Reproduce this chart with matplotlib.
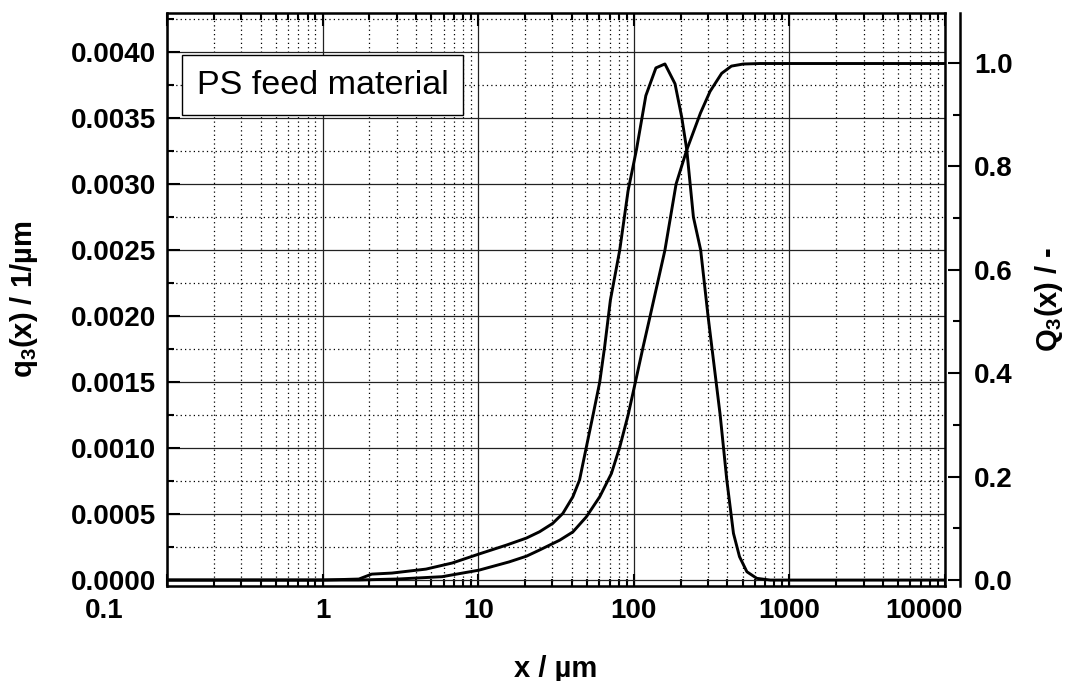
import numpy as np
import matplotlib
matplotlib.use("Agg")
import matplotlib.pyplot as plt
from matplotlib.ticker import FixedLocator, FuncFormatter, MultipleLocator, LogLocator, NullFormatter
from matplotlib.transforms import ScaledTranslation

plt.rcParams['font.family'] = ['Liberation Sans', 'DejaVu Sans']
plt.rcParams['font.weight'] = 'bold'
plt.rcParams['mathtext.default'] = 'regular'

# density distribution q3(x)
x_q3 = [0.1, 1.0, 1.71, 2.07, 2.79, 4.62, 6.8, 10.1, 15.2, 20.4, 24.8, 30.1, 35.0,
        40.6, 44.8, 49.5, 54.7, 60.4, 65.0, 70.7, 81.2, 91.9, 104, 119.5, 138.7,
        158.5, 184, 203, 219, 241.6, 269, 300, 359, 396, 437, 478, 533, 617, 753, 10000]
q3 = [0.0, 0.0, 0.0000076, 0.000045, 0.000053, 0.000083, 0.000129, 0.000197, 0.000265,
      0.000318, 0.000366, 0.000429, 0.000505, 0.000631, 0.000758, 0.001005, 0.00125,
      0.0015, 0.00177, 0.00212, 0.0025, 0.00295, 0.00326, 0.00367, 0.00388, 0.00391,
      0.00376, 0.00351, 0.00326, 0.00275, 0.0025, 0.0020, 0.00125, 0.000758, 0.000354,
      0.000177, 0.000063, 0.000013, 0.0, 0.0]

# cumulative distribution Q3(x)
x_Q3 = [0.1, 1.71, 3.09, 5.86, 10.1, 15.8, 20.4, 24.8, 33.4, 40.6, 49.5, 60.4, 71.8,
        81.2, 91.9, 102.6, 114.8, 127, 158.5, 187, 219, 268, 309, 367, 424, 505, 646, 10000]
Q3 = [0.0, 0.0, 0.002, 0.0064, 0.019, 0.035, 0.046, 0.058, 0.077, 0.093, 0.122, 0.161,
      0.206, 0.257, 0.319, 0.384, 0.451, 0.509, 0.638, 0.766, 0.832, 0.903, 0.945,
      0.980, 0.994, 0.998, 0.999, 0.999]

x_ticks = [0.1, 1, 10, 100, 1000, 10000]

fig = plt.figure(figsize=(10.73, 6.81), dpi=100)
ax = fig.add_axes([167 / 1073, 1 - 586 / 681, 778 / 1073, 573 / 681])

ax.plot(x_q3, q3, color='black', lw=2.1, zorder=5)
ax.set_xscale('log')
ax.set_xlim(0.1, 10000)
ax.set_ylim(-0.000045, 0.004296)

ax.xaxis.set_major_locator(FixedLocator(x_ticks))
ax.xaxis.set_major_formatter(FuncFormatter(lambda v, p: '{:g}'.format(v)))
ax.xaxis.set_minor_locator(LogLocator(base=10, subs=np.arange(2, 10), numticks=20))
ax.xaxis.set_minor_formatter(NullFormatter())
ax.yaxis.set_major_locator(MultipleLocator(0.0005))
ax.yaxis.set_minor_locator(MultipleLocator(0.00025))
ax.yaxis.set_major_formatter(FuncFormatter(lambda v, p: '%.4f' % v))

ax.grid(which='major', color='#222222', lw=0.9, ls='-')
ax.grid(which='minor', color='black', lw=0.9, ls=(0, (1, 2.5)))
ax.set_axisbelow(True)

ax.tick_params(which='both', direction='in', top=True, right=False, width=1.5, labelsize=20)
ax.tick_params(which='major', length=9)
ax.tick_params(which='minor', length=5)
ax.tick_params(axis='y', pad=8)
ax.tick_params(axis='x', pad=9)
for s in ax.spines.values():
    s.set_linewidth(1.8)

ax.set_xlabel('x / µm', fontsize=21, fontweight='bold', labelpad=22)
ax.set_ylabel('q$_3$(x) / 1/µm', fontsize=21, fontweight='bold', labelpad=22)

ax.text(0.038, 0.874, 'PS feed material', transform=ax.transAxes, fontsize=24.5,
        fontweight='normal', va='center', ha='left', zorder=6,
        bbox=dict(boxstyle='square,pad=0.42', facecolor='white', edgecolor='black', lw=1.0))

ax2 = ax.twinx()
ax2.plot(x_Q3, Q3, color='black', lw=2.1, zorder=5)
ax2.set_ylim(-0.0116, 1.0967)
ax2.yaxis.set_major_locator(MultipleLocator(0.2))
ax2.yaxis.set_minor_locator(MultipleLocator(0.1))
ax2.yaxis.set_major_formatter(FuncFormatter(lambda v, p: '%.1f' % v))
ax2.spines['right'].set_position(('outward', 10.8))
ax2.spines['right'].set_linewidth(1.8)
ax2.tick_params(which='both', direction='in', width=1.5, labelsize=20, pad=10)
ax2.tick_params(which='major', length=9)
ax2.tick_params(which='minor', length=5)
ax2.set_ylabel('Q$_3$(x) / -', fontsize=21, fontweight='bold', labelpad=15)

# end labels of the x axis sit shifted like in the original
ticks = ax.xaxis.get_major_ticks()
first = ticks[0].label1
first.set_horizontalalignment('right')
first.set_transform(first.get_transform() + ScaledTranslation(-0.44, 0, fig.dpi_scale_trans))
last = ticks[-1].label1
last.set_horizontalalignment('right')
last.set_transform(last.get_transform() + ScaledTranslation(0.18, 0, fig.dpi_scale_trans))

fig.savefig('out.png', dpi=100)
